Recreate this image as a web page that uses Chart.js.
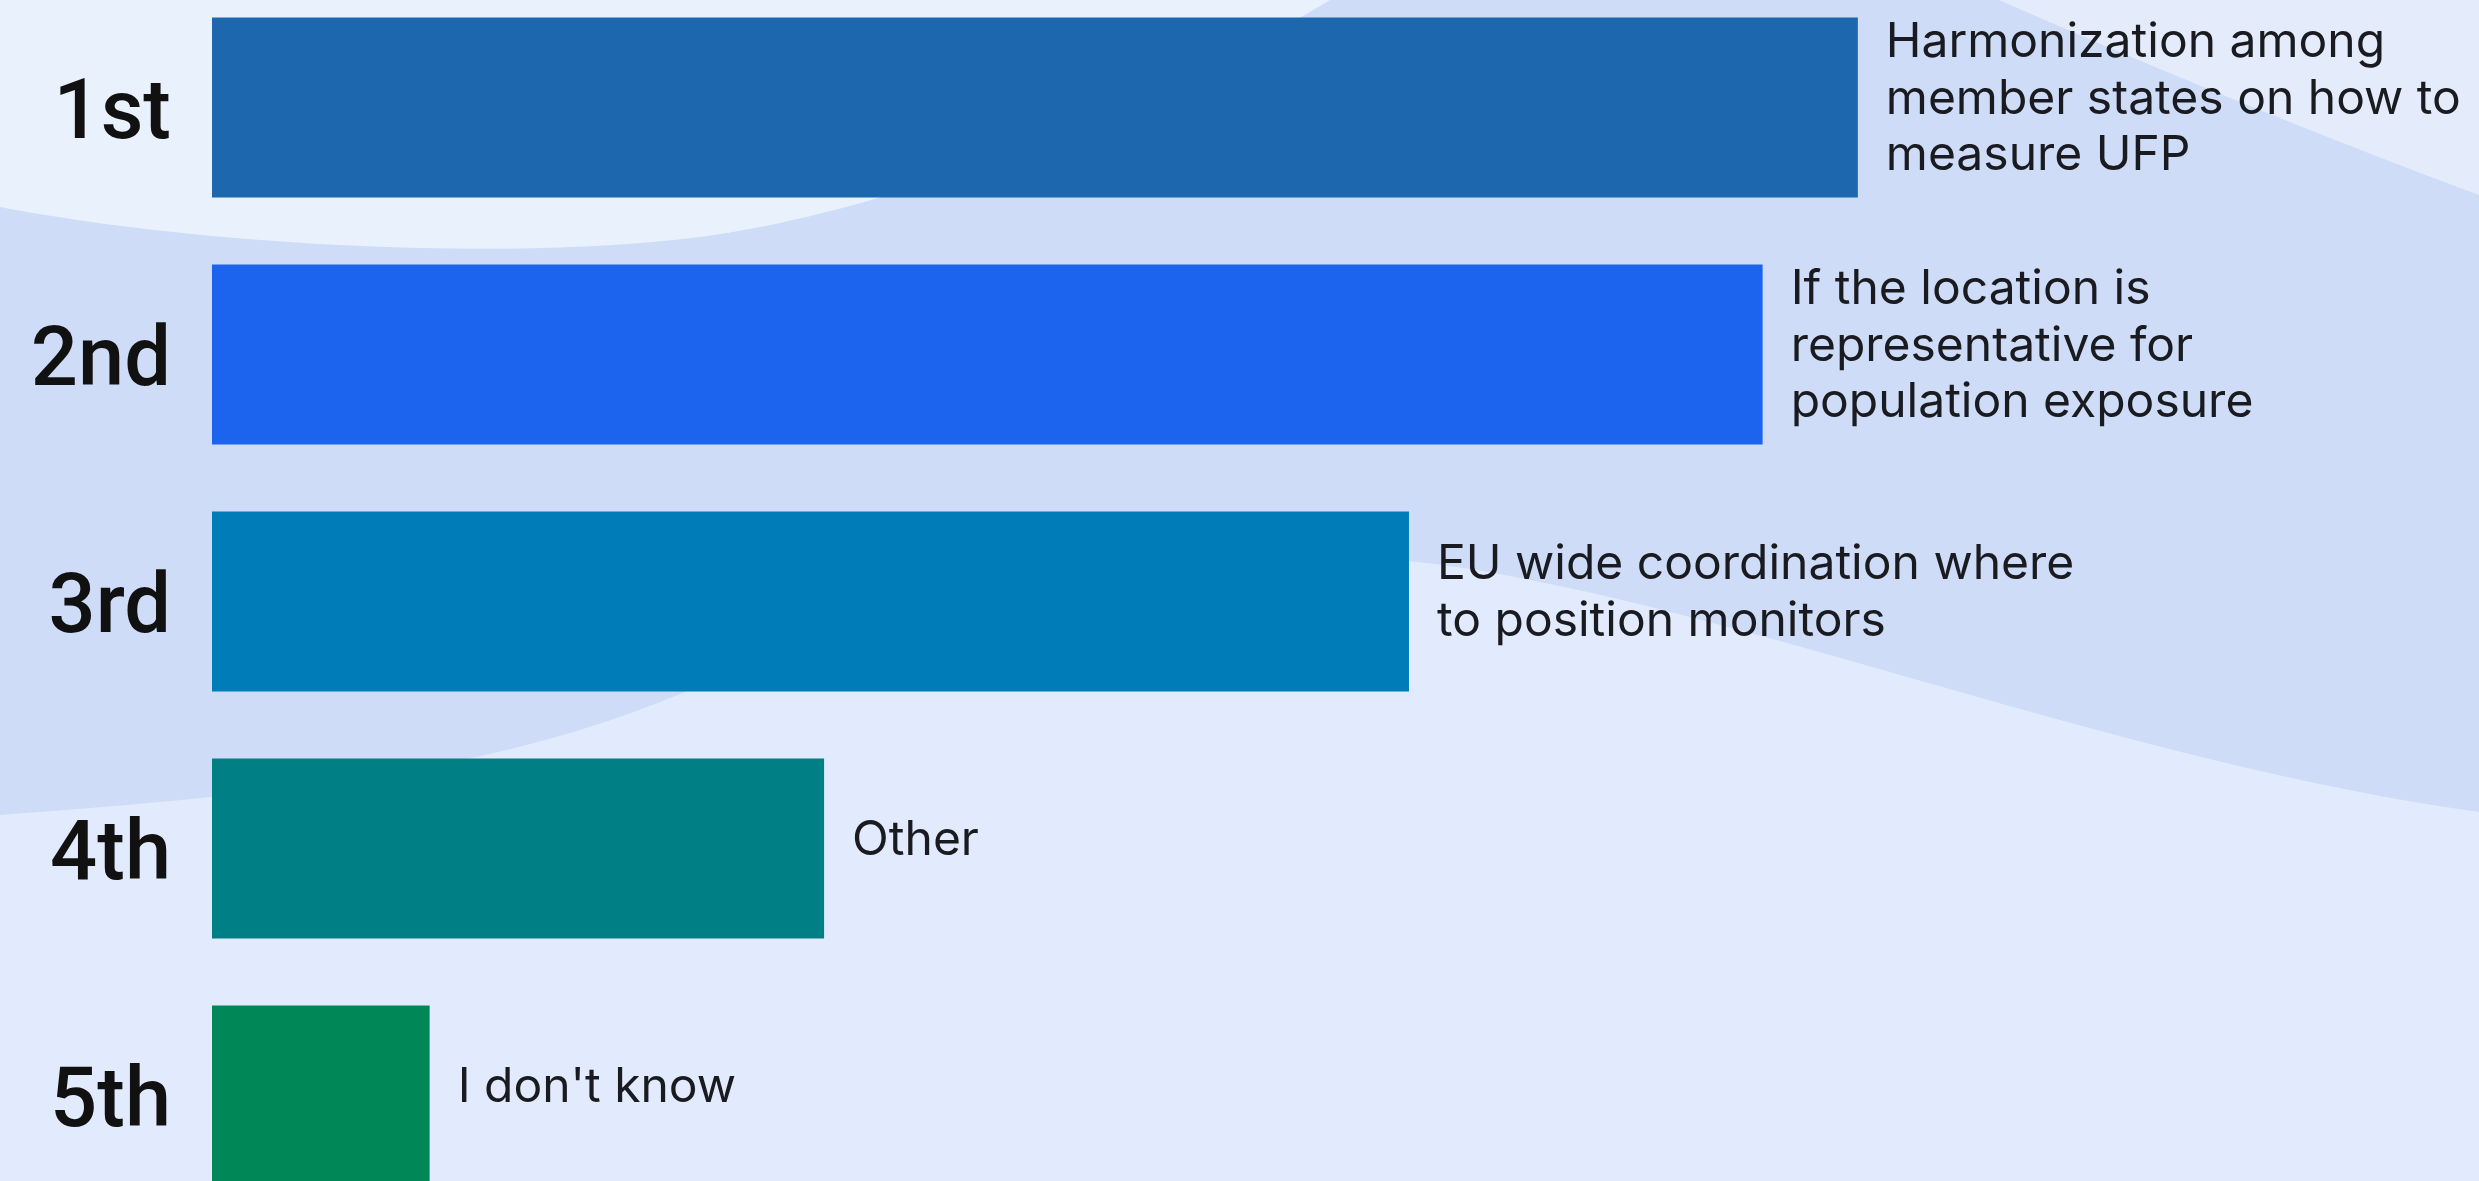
<!DOCTYPE html>
<html>
<head>
<meta charset="utf-8">
<script src="https://cdn.jsdelivr.net/npm/chart.js@4"></script>
<style>
    html, body { margin: 0; padding: 0; }
    body { width: 2479px; height: 1181px; overflow: hidden; position: relative; background: #e2ebfd; }
    #bg { position: absolute; left: 0; top: 0; }
    #wrap { position: absolute; left: 0; top: -16px; width: 2479px; height: 1235px; }
</style>
</head>
<body>

<!-- BACKGROUND SHAPES -->
<svg id="bg" width="2479" height="1181" viewBox="0 0 2479 1181">
    <rect x="0" y="0" width="2479" height="1181" fill="#e2ebfd"/>
    <path d="M0,0 L2479,0 L2479,812 C2100,760 1700,590 1400,560 C1150,540 900,600 680,694 C520,760 350,790 0,815 Z" fill="#cedcf7"/>
    <path d="M0,0 L0,207 C200,245 500,262 700,237 C900,210 1150,110 1330,0 Z" fill="#e9f1fd"/>
    <path d="M1999,0 L2479,0 L2479,195 Q2250,110 1999,0 Z" fill="#e4ecfc"/>
</svg>

<div id="wrap"><canvas id="rankChart"></canvas></div>

<script>
// DATA

const ranks = ["1st", "2nd", "3rd", "4th", "5th"];
const scores = [72.6, 68.4, 52.8, 27.0, 9.6];
const answers = [
    ["Harmonization among", "member states on how to", "measure UFP"],
    ["If the location is", "representative for", "population exposure"],
    ["EU wide coordination where", "to position monitors"],
    ["Other"],
    ["I don't know"]
];

const barColors = ["#1c67ad", "#1c64ee", "#007cb9", "#008085", "#008757"];


// ANSWER TEXT NEXT TO EACH BAR

const answerLabels = {
    id: "answerLabels",
    afterDatasetsDraw(chart) {
        const ctx = chart.ctx;
        const meta = chart.getDatasetMeta(0);
        const lh = 56.5;
        ctx.save();
        ctx.font = "400 48px Inter";
        ctx.fillStyle = "#1a1b20";
        ctx.textAlign = "left";
        ctx.textBaseline = "alphabetic";
        meta.data.forEach((bar, i) => {
            const lines = answers[i];
            lines.forEach((line, j) => {
                const y = bar.y + 6 + (j - (lines.length - 1) / 2) * lh;
                ctx.fillText(line, bar.x + 28, y);
            });
        });
        ctx.restore();
    }
};


// CHART

new Chart(document.getElementById("rankChart"), {
    type: "bar",
    data: {
        labels: ranks,
        datasets: [{
            data: scores,
            backgroundColor: barColors,
            borderWidth: 0,
            barPercentage: 1,
            categoryPercentage: 0.729
        }]
    },
    options: {
        indexAxis: "y",
        responsive: true,
        maintainAspectRatio: false,
        animation: false,
        layout: { padding: 0 },
        plugins: { legend: { display: false }, tooltip: { enabled: false } },
        scales: {
            x: { display: false, min: 0, max: 100 },
            y: {
                grid: { display: false, drawTicks: false },
                border: { display: false },
                ticks: {
                    padding: 41,
                    labelOffset: 10,
                    color: "#111111",
                    font: { family: "Roboto", size: 83, weight: "500" }
                },
                afterFit(scale) {
                    scale.width = 212;
                    scale.paddingTop = 0;
                    scale.paddingBottom = 0;
                }
            }
        }
    },
    plugins: [answerLabels]
});
</script>
</body>
</html>
